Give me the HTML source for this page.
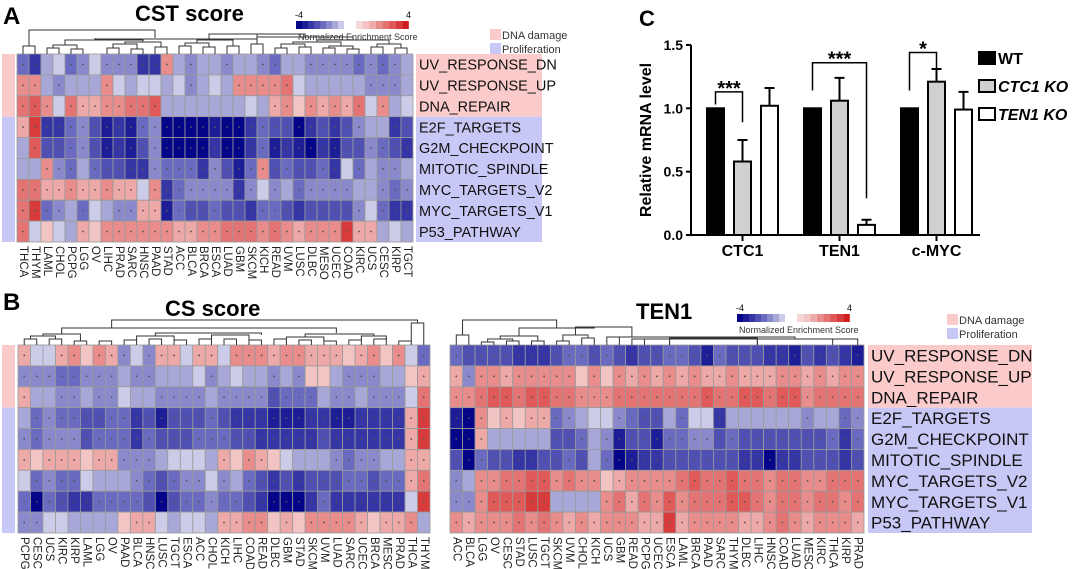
<!DOCTYPE html>
<html><head><meta charset="utf-8"><style>
body{margin:0;background:#fff;}
svg{display:block;font-family:"Liberation Sans",Arial,sans-serif;}
</style></head><body>
<svg id="fig" width="1072" height="569" viewBox="0 0 1072 569"></svg>
<script>
const rowsNames=["UV_RESPONSE_DN","UV_RESPONSE_UP","DNA_REPAIR","E2F_TARGETS","G2M_CHECKPOINT","MITOTIC_SPINDLE","MYC_TARGETS_V2","MYC_TARGETS_V1","P53_PATHWAY"];
const colsA=["THCA","THYM","LAML","CHOL","PCPG","LGG","OV","LIHC","PRAD","SARC","HNSC","PAAD","STAD","ACC","BLCA","BRCA","ESCA","LUAD","GBM","SKCM","KICH","READ","UVM","LUSC","DLBC","MESO","UCEC","COAD","KIRC","UCS","CESC","KIRP","TGCT"];
const valsA=[
[-2,-3,-1,-0.5,-2,-1.5,-0.5,-1.5,-1.5,-1.5,-3,-3,2,-1,-1.5,-1,-1,-1.5,-1,-1,-1.5,-2,-1,-1,-1.5,-1.5,-1.5,-1.5,-2,-1.5,-2,-1.5,-1],
[2,2,-1,-1.5,-1,-1,-1,2,-0.5,-1,-0.5,-0.5,-1,-0.5,-1.5,-1,-0.5,-1,2,2,2,2,2.5,-0.5,-1,-1,-1,-1,-1,-1.5,-1.5,-1.5,-1],
[2.5,3,2,-0.5,2.5,1.5,1.5,2,2,2.5,2.5,3,-1,-1,-1,-1,-1,-1,-1,-0.5,-1,1.5,2,1,2,1.5,2,1.5,2.5,-0.5,2,-1,-0.5],
[1.5,3.5,-3,-3,-2,-1.5,-2.5,-3.5,-3,-3.5,-2,-1.5,-4,-4,-4,-4,-3.5,-4,-4,-3,-2,-2.5,-2.5,-4,-3,-2.5,-3,-2.5,-1.5,-1,-1,-3,-2.5],
[-1,3,-2.5,-2.5,-2,-1.5,-2.5,-3.5,-3,-3.5,-2.5,-1.5,-4,-4,-4,-4,-3,-4,-4,-3,-2,-3.5,-3,-3.5,-4,-3,-3.5,-2.5,-2.5,-1.5,-2,-2.5,-3],
[-1,-1,2,-1.5,-2,-1,-2,-2.5,-2.5,-3,-3,-1.5,-2,-2,-2,-3,-1.5,-2.5,-3.5,-2,2,-2.5,-2,-2.5,-2.5,-2,-3,-0.5,-2,-1,-1.5,-1.5,-1],
[2.5,2.5,1.5,1.5,2,1.5,1.5,2,1.5,1.5,-0.5,2,-3,-2,-1.5,-1.5,-1.5,-1.5,-3,-1.5,-0.5,-1.5,-1,-2,-1.5,-1.5,-1.5,-1.5,-1,-1,-1.5,-2,-1.5],
[2.5,3.5,-2,-1.5,-1,-2,-0.5,-1,-1.5,-1.5,1.5,1.5,-3.5,-2,-2.5,-2.5,-2,-2.5,-2.5,-3,-2,-2,-2.5,-3,-2.5,-2.5,-2.5,-2.5,-1.5,-0.5,-2,-3,-3],
[2.5,-0.5,1,-0.5,-1,1.5,1,2,2,2,2,2,2,1.5,1.5,2,2,2.5,2.5,2.5,2,2.5,2,1.5,2,2,2,3.5,1.5,1.5,-1,-0.5,-1]];
const colsB=["PCPG","CESC","UCS","KIRC","KIRP","LAML","LGG","OV","PAAD","BLCA","HNSC","LUSC","TGCT","ESCA","ACC","CHOL","KICH","LIHC","COAD","READ","DLBC","GBM","STAD","SKCM","UVM","LUAD","SARC","UCEC","BRCA","MESO","PRAD","THCA","THYM"];
const valsB=[
[1.5,-0.5,-0.5,1.5,2,1,2,1.5,-1.5,-0.5,-1.5,1.5,1.5,-0.5,1.5,1.5,-0.5,2,2,2,1.5,2,2,1.5,1.5,1.5,1,1.5,2,1,2,-0.5,-2],
[-1.5,-1.5,-1.5,-2,-2,-1.5,-1.5,-1.5,-1,-1.5,-1.5,-1,-1,-1,-0.5,-1.5,-1,-0.5,-1,-1,-1.5,-1,-1.5,1,1,-1,-1.5,-1.5,-1.5,-1,-1,1,1.5],
[1.5,-1,-1,-1.5,-1.5,-1,-1.5,-1.5,-0.5,-1,-1,-1.5,-1.5,-1.5,-1.5,-1,-1.5,-1.5,-1.5,-1.5,-2.5,-2,-2,-2,-1,-1.5,-1.5,-1,-1.5,-1.5,-1.5,-0.5,2.5],
[-1,-2,-1.5,-2,-2,-2.5,-2.5,-2,-2,-3,-2.5,-3.5,-2.5,-2.5,-2.5,-2,-2.5,-3,-3,-3,-3.5,-3.5,-3.5,-3,-3,-3.5,-3.5,-3,-3,-3,-3,1.5,3.5],
[-1.5,-2,-1.5,-1.5,-1.5,-2.5,-2,-2,-2,-3,-2,-2.5,-2.5,-2.5,-2,-2,-2,-2.5,-2.5,-3,-3,-3,-3,-3,-2.5,-3,-3,-3,-3,-3,-3,1.5,3.5],
[1.5,1,1.5,1.5,1.5,1,1.5,1.5,-1.5,-1.5,-1.5,-1,-0.5,-0.5,-0.5,-1,1.5,1,2,1.5,1,-0.5,-1,-1,-1,-1.5,-2,-1.5,-1.5,-1,-1,1.5,1.5],
[-0.5,-2,-1.5,-2,-2,-0.5,-1,-1,-1,-1.5,-2,-2.5,-2,-1.5,-1.5,-0.5,-1.5,-1,-2,-2.5,-3,-2.5,-3,-2.5,-2.5,-2.5,-2,-2,-2.5,-2,-2,1.5,2.5],
[-2,-4,-2,-2.5,-3,-3,-2,-2,-2,-2,-2.5,-4,-2.5,-2,-2,-1.5,-2,-2,-2.5,-3,-4,-4,-4,-3,-2,-3,-3,-3,-3,-3,-3,-0.5,3.5],
[-1.5,-1.5,-0.5,-0.5,-1,-1,-1,-1,1,1.5,1.5,-0.5,-1,-0.5,-0.5,-1,1.5,1.5,2,2,1,1.5,1,2,2,2,2,1.5,1,1.5,1.5,2,-1]];
const colsT=["ACC","BLCA","LGG","OV","CESC","STAD","LUSC","TGCT","SKCM","UVM","CHOL","KICH","UCS","GBM","READ","PCPG","UCEC","ESCA","LAML","BRCA","PAAD","SARC","THYM","DLBC","LIHC","HNSC","COAD","LUAD","MESO","KIRC","THCA","KIRP","PRAD"];
const valsT=[
[-2,-2.5,-2.5,-2.5,-2.5,-3,-3,-3,-2.5,-2,-2,-2.5,-2,-2.5,-3,-2.5,-2.5,-2,-2,-2.5,-3.5,-2,-2.5,-2.5,-2.5,-3,-3,-3.5,-2.5,-3,-2.5,-3,-3.5],
[1.5,-1.5,2,2,1.5,2,2,2,2,2,1,2,1,2,1.5,2,1.5,2,1.5,2,1.5,1.5,2,1.5,1.5,1.5,2,2,1.5,2,1.5,2,2],
[2,2,2.5,3,3,2.5,3,3,2.5,2.5,2,2,2,2.5,2.5,2.5,2.5,2.5,2.5,2.5,3,2.5,2.5,3,3,2.5,3,3,2,2.5,2.5,2.5,2.5],
[-3.5,-4,2,1,1.5,1,1.5,1.5,-2,-1.5,-1,-0.5,-0.5,-1.5,-2,-2.5,-2.5,-1,-2,-0.5,-0.5,-3,-1,-1,-1,-1,-1,-1,-1.5,-1,-1,-2,-1.5],
[-4,-4,1.5,-1,-1,-1,-1,-1,-2.5,-2.5,-2,-1,-1.5,-3.5,-2.5,-2.5,-3.5,-2,-2,-1.5,-1.5,-2.5,-2,-2.5,-2.5,-2.5,-2.5,-2.5,-2.5,-2.5,-2,-3,-2],
[-2.5,-4,-2,-2.5,-2.5,-3,-3,-2.5,-2.5,-2,-2.5,-1,-2,-4,-3.5,-3,-3,-2.5,-2.5,-2.5,-2.5,-2.5,-2.5,-3,-3,-4,-3,-3,-2.5,-2.5,-2.5,-3,-2.5],
[-1.5,-1,2,2,2.5,2.5,3,3,2,2.5,2,2,1,1.5,2,2,2,2,2.5,3,2.5,2.5,3,2.5,2.5,2,2.5,2.5,2,2,2.5,2.5,2.5],
[-1.5,-1.5,2,3,3,3,3.5,3.5,-1,-1,-1,-1,2,2.5,1.5,2.5,2,3,2,2.5,2.5,2.5,3,3,2.5,2,2.5,2.5,2,2.5,2.5,2,2.5],
[2,1.5,2,2,2,2.5,2,2.5,2,1.5,2,1.5,2,2,2,1.5,1.5,3.5,1.5,2,2,2,2,1.5,1.5,2,2.5,2,1.5,2,2,2,1.5]];
// bar chart data
const barGenes=["CTC1","TEN1","c-MYC"];
const barSeries=["WT","CTC1 KO","TEN1 KO"];
const barWT=[1,1,1];
const barCTC1KO=[0.58,1.06,1.21];
const barTEN1KO=[1.02,0.08,0.99];
const errWT=[0,0,0];
const errCTC1KO=[0.17,0.18,0.1];
const errTEN1KO=[0.14,0.04,0.14];
const yTicks=[0,0.5,1.0,1.5];
const sigLabels=["***","***","*"];
const sigPairs=[[0,1],[0,2],[0,1]];
const sigTop=[1.13,1.36,1.44];
const sigLeftEnd=[1.03,1.14,1.14];
const sigRightEnd=[0.89,0.29,1.29];

const NS="http://www.w3.org/2000/svg";
const svg=document.getElementById('fig');
function el(tag,attrs,parent,text){const e=document.createElementNS(NS,tag);for(const k in attrs)e.setAttribute(k,attrs[k]);if(text!==undefined)e.textContent=text;(parent||svg).appendChild(e);return e;}
function lerp(a,b,t){return a.map((v,i)=>Math.round(v+(b[i]-v)*t));}
const negStops=[[242,240,247],[168,168,216],[106,106,192],[53,53,165],[5,5,138]];
const posStops=[[246,234,234],[242,196,196],[232,140,140],[224,90,90],[208,28,28]];
function color(v){const s=v<0?negStops:posStops;let a=Math.min(Math.abs(v),4);const i=Math.min(Math.floor(a),3);const c=lerp(s[i],s[i+1],a-i);return `rgb(${c[0]},${c[1]},${c[2]})`;}

function heatmap(name,cols,vals,x0,y0,w,h,labY){
  const g=el('g',{});
  
  
  const cw=w/cols.length, rh=h/vals.length;
  vals.forEach((row,r)=>row.forEach((v,c)=>{
    const rc=el('rect',{x:x0+c*cw,y:y0+r*rh,width:cw,height:rh,fill:color(v),stroke:'#9a9a9a','stroke-width':0.8},g);
    
    
    if(Math.abs(v)>=1.5){el('circle',{cx:x0+(c+0.5)*cw,cy:y0+(r+0.5)*rh,r:0.9,fill:'#555'},g);}
  }));
  cols.forEach((n,c)=>{
    const t=el('text',{x:0,y:0,'font-size':11.5,fill:'#222','dominant-baseline':'central',transform:`translate(${x0+(c+0.5)*cw},${labY}) rotate(90)`},g,n);
    
    
  });
}
function rowLabels(x,y0,h,w,fs){
  const rh=h/9;
  el('rect',{x:x,y:y0,width:w,height:rh*3,fill:'#fbcaca'});
  el('rect',{x:x,y:y0+rh*3,width:w,height:rh*6,fill:'#c8c8f6'});
  rowsNames.forEach((n,i)=>{const t=el('text',{x:x+3,y:y0+(i+0.5)*rh+fs*0.36,'font-size':fs,fill:'#111'},svg,n);
    
    });
}
function sideBar(x,y0,h){const rh=h/9;el('rect',{x:x,y:y0,width:13,height:rh*3,fill:'#fbcaca'});el('rect',{x:x,y:y0+rh*3,width:13,height:rh*6,fill:'#c8c8f6'});}
function colorbar(x,y){
  for(let i=0;i<8;i++){el('rect',{x:x+i*6,y:y,width:6,height:8,fill:color(-4+i*0.5)});}
  for(let i=0;i<8;i++){el('rect',{x:x+60+i*6.6,y:y,width:6.6,height:8,fill:color(0.5+i*0.5)});}
  el('text',{x:x-1,y:y-3,'font-size':9},svg,'-4');
  el('text',{x:x+110,y:y-3,'font-size':9},svg,'4');
  el('text',{x:x+2,y:y+19,'font-size':9,fill:'#333'},svg,'Normalized Enrichment Score');
}
function legend(x,y){
  el('rect',{x:x,y:y,width:11,height:11,fill:'#fbcaca'});el('text',{x:x+12,y:y+10,'font-size':11,fill:'#333'},svg,'DNA damage');
  el('rect',{x:x,y:y+14,width:11,height:11,fill:'#c8c8f6'});el('text',{x:x+12,y:y+24,'font-size':11,fill:'#333'},svg,'Proliferation');
}
function dendro(x0,cw,brs){
  brs.forEach(b=>{const xa=x0+(b[0]+0.5)*cw,xb=x0+(b[1]+0.5)*cw;
    el('path',{d:`M${xa},${b[3]} V${b[2]} H${xb} V${b[4]}`,fill:'none',stroke:'#333','stroke-width':1});});
}
// Panel A
el('text',{x:3,y:24,'font-size':24,'font-weight':'bold'},svg,'A');
el('text',{x:135,y:21,'font-size':22,'font-weight':'bold'},svg,'CST  score');
sideBar(2,54,188);
heatmap('heatmap-cst',colsA,valsA,17,54,396,188,246);
rowLabels(416,54,188,126,14.5);
colorbar(296,21);
legend(490,29);
const cwA=396/33;
dendro(17,cwA,[[0,1,46,54,54],[0.5,11,30,46,38],[2,3,48,54,54],[4,5,49,54,54],[7,8,48,54,54],[9,10,49,54,54],[11,12,47,54,54],[2.5,4.5,45,48,49],[7.5,9.5,44,48,49],[8.5,11.5,42,44,47],[3.5,10,40,45,42],[13,14,46,54,54],[15,16,47,54,54],[17,18,46,54,54],[13.5,15.5,43,46,47],[14.5,17.5,40,43,46],[19,20,44,54,54],[21,22,48,54,54],[23,24,47,54,54],[25,26,48,54,54],[27,28,49,54,54],[21.5,23.5,44,48,47],[25.5,27.5,46,48,49],[22.5,26.5,42,44,46],[29,30,47,54,54],[31,32,48,54,54],[29.5,31.5,44,47,48],[24.5,30.5,40,42,44],[19.5,27.5,37,44,40],[15.5,23.5,34,40,37],[6,19.5,39,38,34]]);
// Panel B CS
el('text',{x:3,y:310,'font-size':24,'font-weight':'bold'},svg,'B');
el('text',{x:165,y:316,'font-size':22,'font-weight':'bold'},svg,'CS score');
sideBar(2,345,188);
heatmap('heatmap-cs',colsB,valsB,18,345,412,188,537);
const cwB=412/33;
dendro(18,cwB,[[0,1,339,345,345],[2,3,339,345,345],[4,5,341,345,345],[0.5,2.5,336,339,339],[1.5,4.5,334,336,341],[6,7,341,345,345],[8,9,340,345,345],[10,11,339,345,345],[12,13,340,345,345],[14,15,339,345,345],[16,17,339,345,345],[18,19,340,345,345],[20,21,339,345,345],[22,23,340,345,345],[24,25,341,345,345],[26,27,340,345,345],[28,29,339,345,345],[30,31,341,345,345],[9,12,336,340,340],[15,18,335,339,340],[21,24,337,339,341],[27,29,336,340,340],[10.5,19,333,336,335],[22.5,28,334,337,336],[3,25,328,334,333],[31,32,323,341,345],[7,31.5,320,328,323]]);
// TEN1
el('text',{x:636,y:319,'font-size':22,'font-weight':'bold'},svg,'TEN1');
heatmap('heatmap-ten1',colsT,valsT,450,345,414,188,537);
rowLabels(868,345,188,164,17);
colorbar(737,314);
legend(947,314);
const cwT=414/33;
dendro(450,cwT,[[0,1,335,345,345],[2,3,342,345,345],[4,5,341,345,345],[6,7,341,345,345],[2.5,4.5,339,342,341],[3.5,6.5,336,339,341],[8,9,341,345,345],[10,11,338,345,345],[8.5,10.5,335,341,338],[12,13,337,345,345],[9.5,14,327,335,337],[5,11,328,336,327],[14,17,339,345,345],[17,24,338,345,345],[24,30,339,345,345],[20,27,337,338,339],[13,23,337,337,337],[15,32,339,345,345],[0.5,8,320,335,328]]);
// Panel C bar chart
el('text',{x:639,y:26,'font-size':22,'font-weight':'bold'},svg,'C');
const y0=235,yPx=126.7;
function ys(v){return y0-v*yPx;}
const axX=691;
const grp=[715,812,909],barW=17,step=27;
el('line',{x1:axX,y1:ys(1.5),x2:axX,y2:y0,stroke:'#000','stroke-width':2});
el('line',{x1:axX,y1:y0,x2:980,y2:y0,stroke:'#000','stroke-width':2});
yTicks.forEach(t=>{el('line',{x1:axX-5,y1:ys(t),x2:axX,y2:ys(t),stroke:'#000','stroke-width':2});
  const tt=el('text',{x:axX-8,y:ys(t)+5,'font-size':14,'font-weight':'bold','text-anchor':'end'},svg,t.toFixed(1));
  
  });
const yt=el('text',{x:0,y:0,'font-size':16,'font-weight':'bold','text-anchor':'middle',transform:`translate(651,140) rotate(-90)`},svg,'Relative mRNA level');


const series=[barWT,barCTC1KO,barTEN1KO],errs=[errWT,errCTC1KO,errTEN1KO],fills=['#000','#d0d0d0','#fff'];
barGenes.forEach((gname,gi)=>{
  const gx=grp[gi]-8;
  series.forEach((s,si)=>{
    const x=gx+si*step, v=s[gi];
    const r=el('rect',{x:x,y:ys(v),width:barW,height:y0-ys(v),fill:fills[si],stroke:'#000','stroke-width':2});
    
    
    if(errs[si][gi]>0){const cx=x+barW/2;el('path',{d:`M${cx},${ys(v)} V${ys(v+errs[si][gi])} M${cx-5},${ys(v+errs[si][gi])} H${cx+5}`,stroke:'#000','stroke-width':2,fill:'none'});}
  });
  el('line',{x1:gx+step+barW/2,y1:y0,x2:gx+step+barW/2,y2:y0+6,stroke:'#000','stroke-width':2});
  const xl=el('text',{x:gx+step+barW/2,y:256,'font-size':16,'font-weight':'bold','text-anchor':'middle'},svg,gname);
  
  
  const p=sigPairs[gi];
  const xa=gx+p[0]*step+barW/2, xb=gx+p[1]*step+barW/2;
  const br=el('path',{d:`M${xa},${ys(sigLeftEnd[gi])} V${ys(sigTop[gi])} H${xb} V${ys(sigRightEnd[gi])}`,stroke:'#000','stroke-width':1.5,fill:'none'});
  
  
  el('text',{x:(xa+xb)/2,y:ys(sigTop[gi])+3,'font-size':20,'font-weight':'bold','text-anchor':'middle'},svg,sigLabels[gi]);
});
// legend C
barSeries.forEach((s,i)=>{const y=52+i*28;
  const r=el('rect',{x:979,y:y,width:16,height:12,fill:fills[i],stroke:'#000','stroke-width':2});
  
  
  const t=el('text',{x:998,y:y+12,'font-size':16,'font-weight':'bold','font-style':i>0?'italic':'normal'},svg,s);
  
  });
</script>
</body></html>
